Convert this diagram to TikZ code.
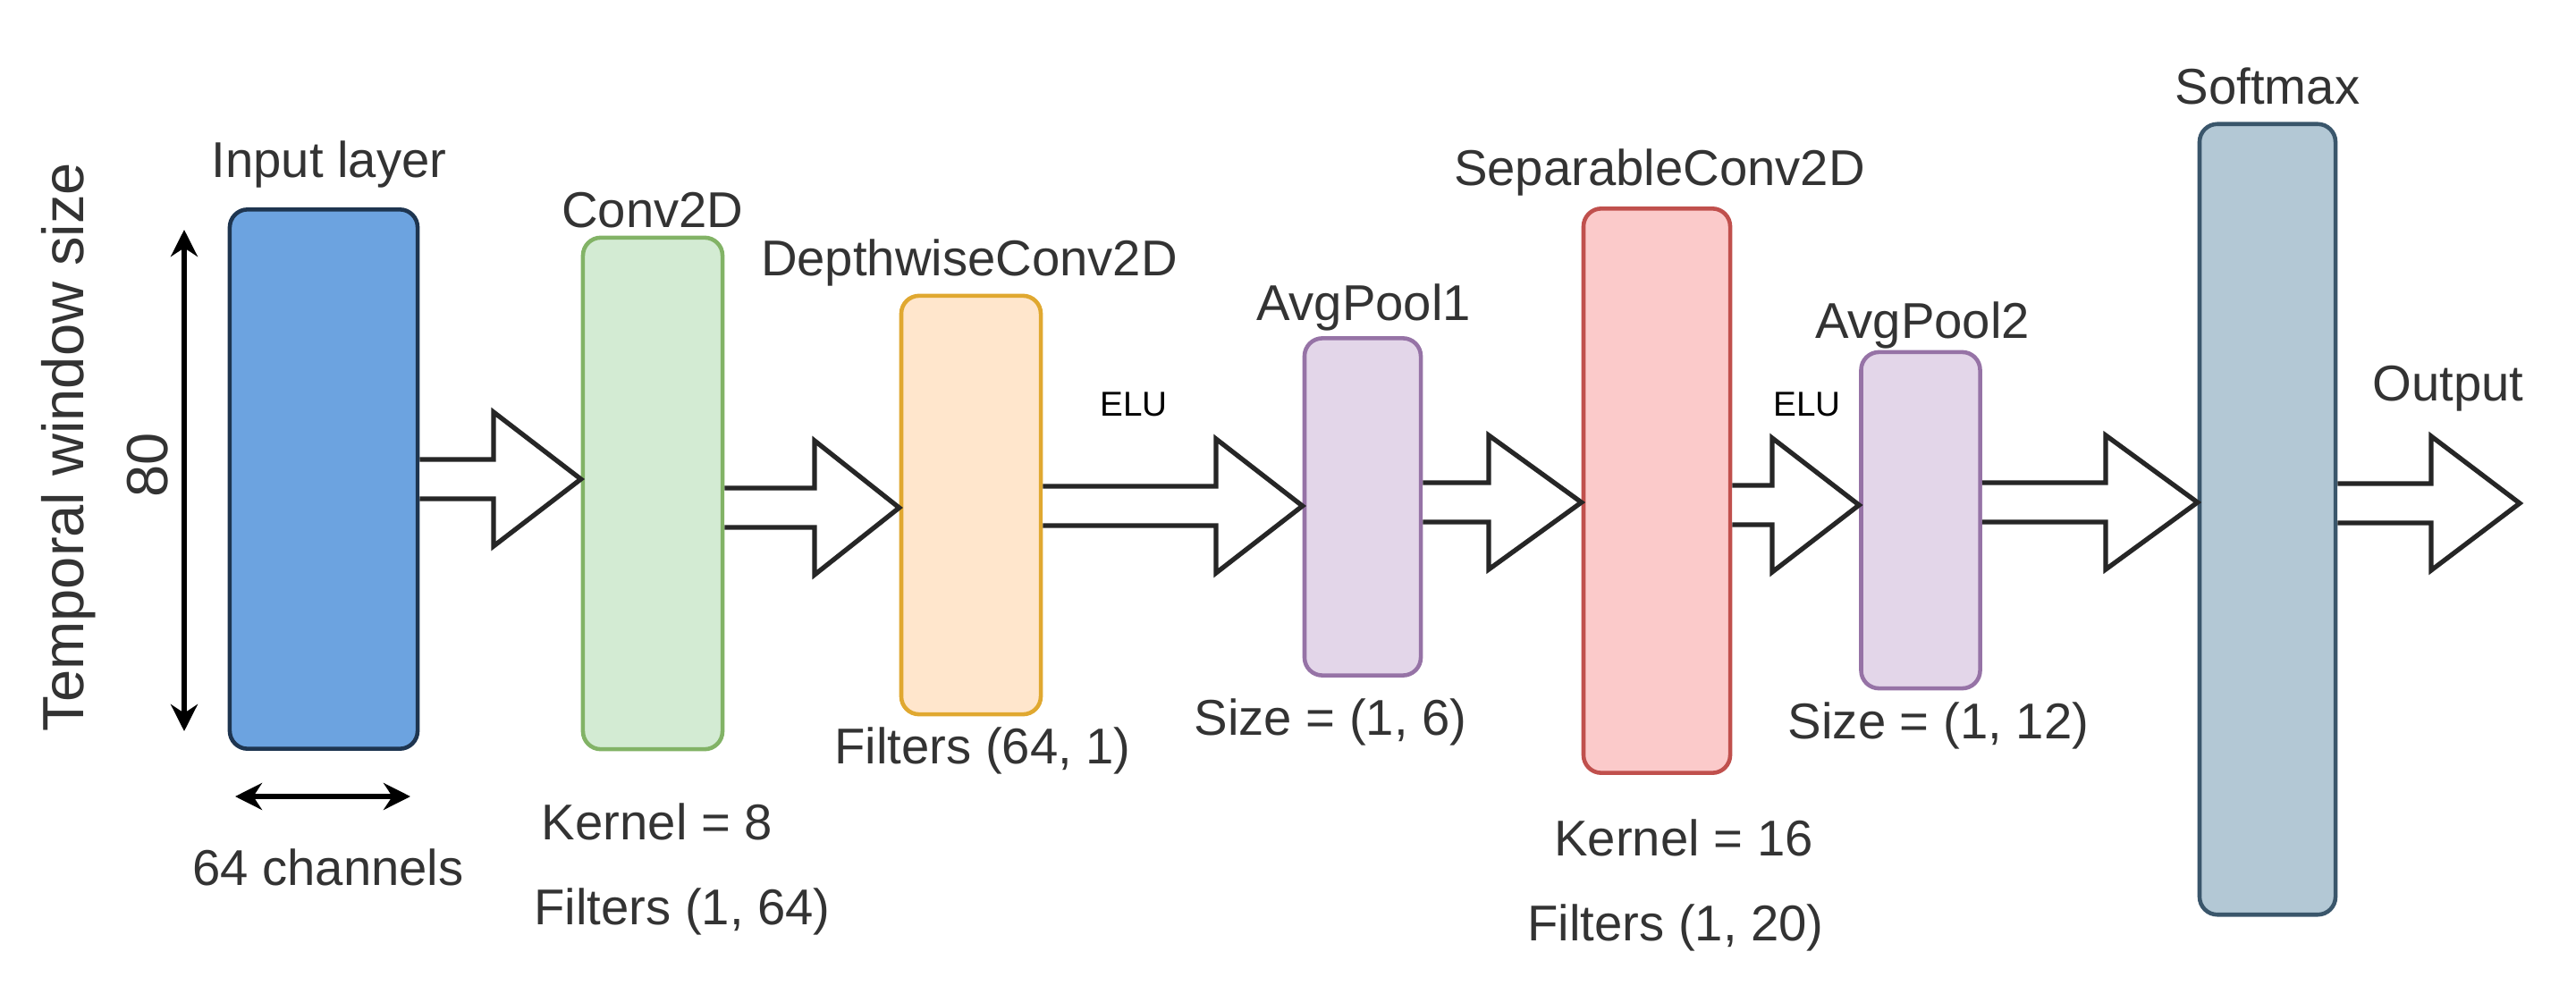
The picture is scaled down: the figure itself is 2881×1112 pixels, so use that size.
\documentclass[tikz,border=0pt]{standalone}
\usepackage{fontspec}
\setmainfont{Liberation Sans}
\usetikzlibrary{arrows.meta}
\begin{document}
\begin{tikzpicture}[x=0.01cm,y=-0.01cm,
  box/.style={draw,line width=1.3pt,rounded corners=0.2cm},
  lbl/.style={font=\fontsize{16}{18}\selectfont,text=black!80,inner sep=0},
  big/.style={font=\fontsize{18.5}{20}\selectfont,text=black!80,inner sep=0},
  elu/.style={font=\fontsize{11}{13}\selectfont,inner sep=0},
  blk/.style={draw=black!85,line width=1.5pt,fill=white,line join=miter}]
\useasboundingbox (0,0) rectangle (2881,1112);
\definecolor{inF}{HTML}{6CA3E0}\definecolor{inD}{HTML}{1E3550}
\definecolor{gF}{HTML}{D3EBD3}\definecolor{gD}{HTML}{82B366}
\definecolor{oF}{HTML}{FFE6CC}\definecolor{oD}{HTML}{E0A830}
\definecolor{pF}{HTML}{E3D6E9}\definecolor{pD}{HTML}{9673A6}
\definecolor{rF}{HTML}{FBCACA}\definecolor{rD}{HTML}{C0504D}
\definecolor{sF}{HTML}{B3C8D5}\definecolor{sD}{HTML}{3A566B}
% boxes
\node[box,fill=inF,draw=inD,minimum width=2.1cm,minimum height=6.03cm] (in) at (362,536) {};
\node[box,fill=gF,draw=gD,minimum width=1.56cm,minimum height=5.72cm] (c2) at (730,552) {};
\node[box,fill=oF,draw=oD,minimum width=1.56cm,minimum height=4.68cm] (dw) at (1086,565) {};
\node[box,fill=pF,draw=pD,minimum width=1.3cm,minimum height=3.77cm] (ap1) at (1524,567) {};
\node[box,fill=rF,draw=rD,minimum width=1.64cm,minimum height=6.31cm] (sc) at (1853,549) {};
\node[box,fill=sF,draw=sD,minimum width=1.52cm,minimum height=8.84cm] (sm) at (2536,581) {};
\node[box,fill=pF,draw=pD,minimum width=1.33cm,minimum height=3.76cm] (ap2) at (2148,582) {};
\coordinate (outtip) at (2818,563);
% block arrows: from node A east to node B west
\newcommand{\blockarrow}[4]{% start, end, y, headstart
  \draw[blk] (#1.east |- 0,#3-22) -- (#4,#3-22) -- (#4,#3-75) -- (#2.west |- 0,#3) -- (#4,#3+75) -- (#4,#3+22) -- (#1.east |- 0,#3+22);}
\blockarrow{in}{c2}{536}{552}
\blockarrow{c2}{dw}{568}{911}
\blockarrow{dw}{ap1}{566}{1360}
\blockarrow{ap1}{sc}{562}{1665}
\blockarrow{sc}{ap2}{565}{1982}
\blockarrow{ap2}{sm}{562}{2355}
\draw[blk] (sm.east |- 0,541) -- (2719,541) -- (2719,488) -- (outtip) -- (2719,638) -- (2719,585) -- (sm.east |- 0,585);
% labels
\node[lbl] (t1) at (368,184) {Input layer};
\node[lbl] (t2) at (730,235) {Conv2D};
\node[lbl] (t3) at (1084,294) {DepthwiseConv2D};
\node[elu] (t4) at (1268,452) {ELU};
\node[lbl] (t5) at (1525,344) {AvgPool1};
\node[lbl] (t6) at (1856,193) {SeparableConv2D};
\node[elu] (t7) at (2021,452) {ELU};
\node[lbl] (t8) at (2150,364) {AvgPool2};
\node[lbl] (t9) at (2536,96) {Softmax};
\node[lbl] (t10) at (2738,435) {Output};
\node[lbl] (t11) at (1099,840) {Filters (64, 1)};
\node[lbl] (t12) at (1488,808) {Size = (1, 6)};
\node[lbl] (t13) at (2168,812) {Size = (1, 12)};
\node[lbl] (t14) at (735,919) {Kernel = 8};
\node[lbl] (t15) at (763,1020) {Filters (1, 64)};
\node[lbl] (t16) at (1883,937) {Kernel = 16};
\node[lbl] (t17) at (1874,1038) {Filters (1, 20)};
\node[lbl] (t18) at (367,970) {64 channels};
\node[big,rotate=90] (t19) at (77,500) {Temporal window size};
\node[big,rotate=90] (t20) at (165,520) {80};
% dimension arrows
\coordinate (va) at (206,257); \coordinate (vb) at (206,818);
\coordinate (ha) at (263,891); \coordinate (hb) at (459,891);
\draw[line width=1.5pt,{Stealth[length=0.3cm,width=0.3cm]}-{Stealth[length=0.3cm,width=0.3cm]}] (va) -- (vb);
\draw[line width=1.5pt,{Stealth[length=0.3cm,width=0.3cm]}-{Stealth[length=0.3cm,width=0.3cm]}] (ha) -- (hb);
\end{tikzpicture}
\end{document}
